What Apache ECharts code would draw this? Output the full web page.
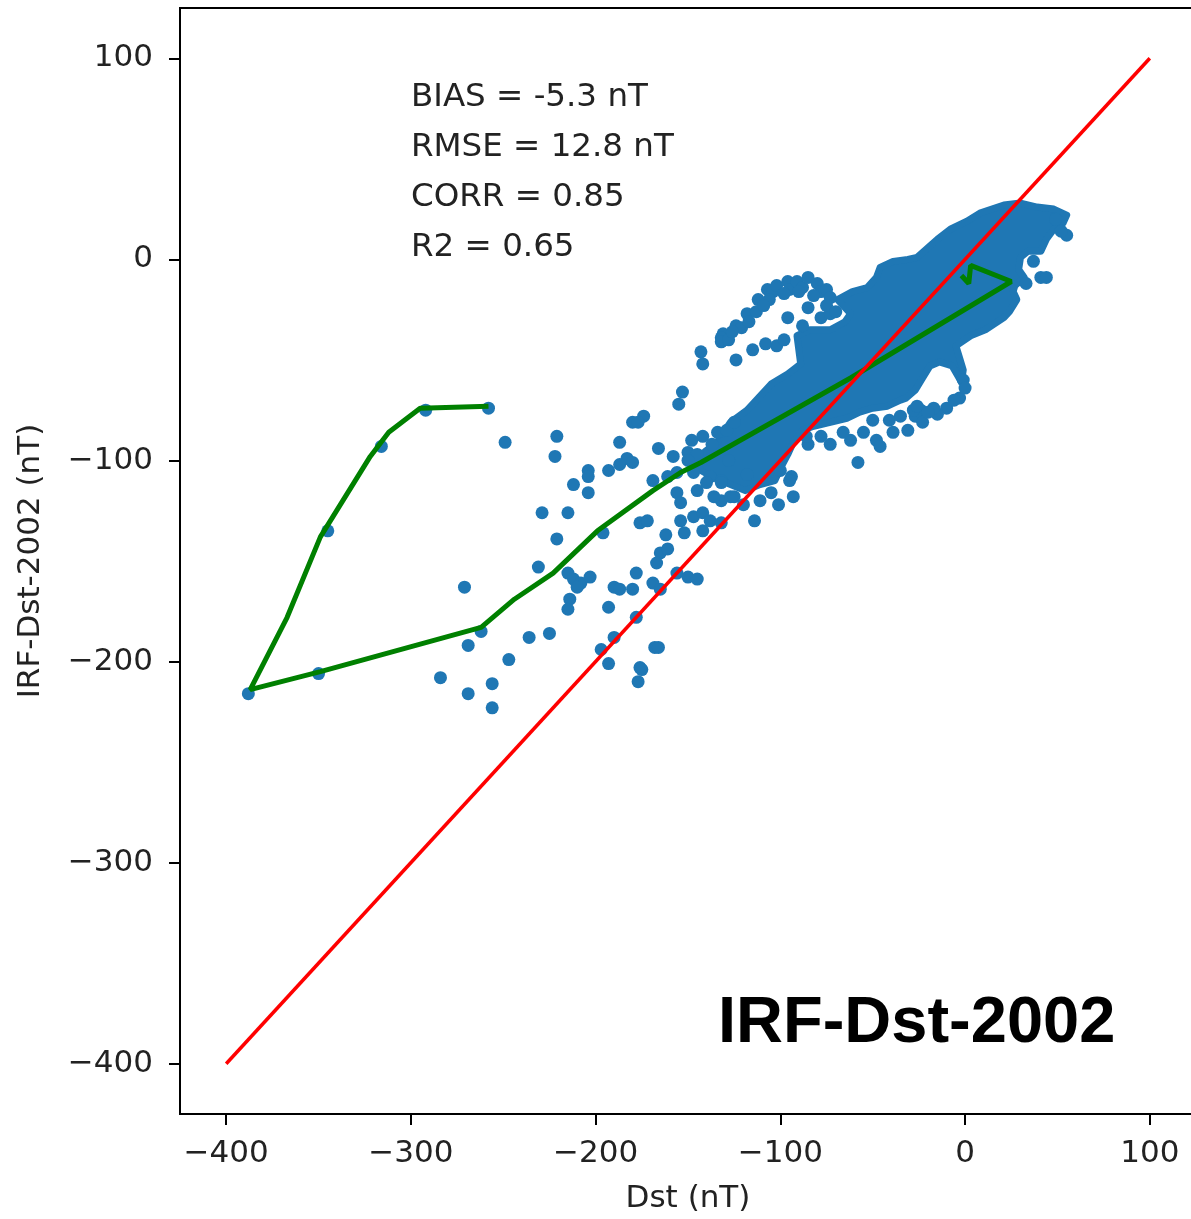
<!DOCTYPE html>
<html>
<head>
<meta charset="utf-8">
<script src="https://cdn.jsdelivr.net/npm/echarts@6/dist/echarts.min.js"></script>
<style>
html,body{margin:0;padding:0;background:#fff;overflow:hidden;}
#chart{width:1198px;height:1219px;}
</style>
</head>
<body>
<div id="chart"></div>
<script>
// ---- data ----
const xTicks = [-400, -300, -200, -100, 0, 100];
const yTicks = [-400, -300, -200, -100, 0, 100];
const xAxisName = 'Dst (nT)';
const yAxisName = 'IRF-Dst-2002 (nT)';
const statsLines = ['BIAS = -5.3 nT', 'RMSE = 12.8 nT', 'CORR = 0.85', 'R2 = 0.65'];
const panelLabel = 'IRF-Dst-2002';

// identity reference line
const redLine = [[-400, -400], [100, 100]];

// storm track (green)
const greenTrack = [
  [-2, -8], [2, -12], [3, -3], [25, -11], [-62, -59], [-143, -101], [-154, -106],
  [-169, -115], [-199, -135], [-223, -156], [-244, -169], [-262, -183],
  [-349, -205], [-387, -214], [-367, -178], [-349, -138], [-322, -98],
  [-312, -86], [-295, -74], [-258, -73]
];

// outline of the dense core of the scatter cloud (overlapping points)
const cloudOutline = [
  [-135, -92], [-127, -81], [-118, -75], [-112, -69], [-105, -62], [-96, -57],
  [-89, -52], [-91, -38], [-84, -35], [-73, -35], [-65, -31], [-62, -27],
  [-69, -20], [-61, -16], [-53, -14], [-48, -9], [-46, -4], [-39, -1],
  [-31, 0], [-26, 1], [-15, 10], [-8, 15], [1, 19], [8, 23], [21, 27],
  [30, 28], [39, 26], [48, 25], [55, 22], [53, 18], [48, 15], [44, 10],
  [41, 4], [34, 4], [30, 1], [29, -5], [32, -9], [27, -13], [26, -16],
  [28, -20], [24, -26], [21, -29], [11, -35], [3, -38], [-5, -43], [-3, -49],
  [-1, -55], [-2, -61], [-7, -53], [-14, -51], [-19, -53], [-23, -59],
  [-27, -65], [-32, -69], [-35, -70], [-42, -73], [-50, -74], [-57, -76],
  [-64, -79], [-73, -81], [-82, -83], [-88, -85], [-93, -91], [-96, -97],
  [-100, -104], [-103, -110], [-111, -112], [-119, -115], [-127, -112],
  [-135, -109], [-143, -105], [-146, -100], [-140, -95]
];

// individual scatter points (Dst, IRF-Dst-2002)
const scatterPoints = [
  // far outliers and storm main phase
  [-388, -216], [-350, -206], [-345, -135], [-316, -93], [-292, -75], [-258, -74],
  [-249, -91], [-221, -88], [-222, -98], [-212, -112], [-204, -105], [-204, -108],
  [-204, -116], [-229, -126], [-215, -126], [-221, -139], [-231, -153], [-271, -163],
  [-262, -185], [-269, -192], [-236, -188], [-225, -186], [-247, -199], [-284, -208],
  [-269, -216], [-256, -211], [-256, -223],
  [-153, -66], [-155, -72], [-174, -78], [-180, -81], [-177, -81], [-187, -91],
  [-166, -94], [-183, -99], [-187, -102], [-193, -105], [-180, -101], [-158, -98],
  [-150, -96], [-145, -97], [-142, -88], [-134, -86], [-129, -85], [-125, -81],
  [-169, -110], [-161, -108], [-156, -106], [-147, -106], [-138, -108], [-132, -110],
  [-156, -116], [-154, -121], [-145, -115], [-140, -111], [-132, -120], [-127, -118],
  [-176, -131], [-172, -130], [-162, -137], [-154, -130], [-152, -136], [-147, -128],
  [-142, -126], [-138, -130], [-142, -135], [-132, -131], [-196, -136], [-165, -146],
  [-161, -144], [-167, -151], [-215, -156], [-212, -159], [-208, -161], [-203, -158],
  [-210, -163], [-214, -169], [-215, -174], [-178, -156], [-190, -163], [-187, -164],
  [-180, -164], [-169, -161], [-165, -164], [-156, -156], [-150, -158], [-145, -159],
  [-193, -173], [-178, -178], [-190, -188], [-197, -194], [-193, -201], [-168, -193],
  [-176, -203], [-177, -210], [-175, -204], [-166, -193],
  [-150, -100], [-148, -90], [-137, -92], [-128, -100], [-136, -118], [-120, -122],
  // upper arc above the core
  [-131, -37], [-124, -33], [-118, -27], [-112, -20], [-107, -15], [-104, -16],
  [-102, -13], [-96, -11], [-95, -15], [-91, -11], [-88, -14], [-85, -9],
  [-80, -12], [-78, -16], [-75, -15], [-73, -19], [-132, -39], [-132, -41],
  [-143, -46], [-142, -52], [-102, -43], [-96, -29], [-85, -24], [-78, -29],
  [-73, -27], [-88, -33],
  [-128, -40], [-121, -34], [-113, -26], [-106, -20], [-98, -17], [-90, -16],
  [-82, -18], [-75, -23], [-70, -26], [-117, -31], [-126, -36], [-109, -23],
  [-115, -45], [-108, -42], [-98, -40], [-124, -50],
  // right side and lower edge of the core
  [55, 12], [37, -1], [41, -9], [44, -9], [-3, -69], [-10, -74], [-15, -77],
  [-24, -75], [-27, -78], [-23, -81], [-31, -85], [-28, -75], [-26, -73],
  [-17, -74], [-39, -86], [-48, -90], [-46, -93], [-62, -90], [-73, -92],
  [-58, -101], [-85, -92], [-94, -108], [-1, -60],
  [-35, -78], [-41, -80], [-50, -80], [-55, -86], [-66, -86], [-78, -88],
  [-86, -88], [-20, -76], [-6, -70], [0, -64], [49, 20], [52, 14], [33, -12],
  [-100, -105], [-95, -110], [-93, -118], [-105, -116], [-111, -120],
  [-118, -107], [-125, -118], [-132, -111], [-101, -122], [-114, -130]
];

// ---- chart ----
const chart = echarts.init(document.getElementById('chart'), null, {renderer: 'canvas'});
const fmt = v => String(v).replace('-', '\u2212');
const FONT = 'DejaVu Sans';

const option = {
  animation: false,
  backgroundColor: '#ffffff',
  grid: {
    left: 180, right: 2, top: 8, bottom: 104,
    show: true, borderColor: '#000', borderWidth: 2, backgroundColor: 'transparent'
  },
  xAxis: {
    type: 'value', min: -425, max: 125,
    name: xAxisName, nameLocation: 'middle', nameGap: 69,
    nameTextStyle: {fontFamily: FONT, fontSize: 31, color: '#222'},
    axisLine: {show: true, onZero: false, lineStyle: {color: '#000', width: 2}},
    axisTick: {show: true, length: 11, lineStyle: {color: '#000', width: 2}, customValues: xTicks},
    axisLabel: {customValues: xTicks, formatter: fmt, fontFamily: FONT, fontSize: 31, color: '#222', margin: 24},
    splitLine: {show: false}
  },
  yAxis: {
    type: 'value', min: -425, max: 125,
    name: yAxisName, nameLocation: 'middle', nameGap: 134, nameRotate: 90,
    nameTextStyle: {fontFamily: FONT, fontSize: 31, color: '#222'},
    axisLine: {show: true, onZero: false, lineStyle: {color: '#000', width: 2}},
    axisTick: {show: true, length: 11, lineStyle: {color: '#000', width: 2}, customValues: yTicks},
    axisLabel: {customValues: yTicks, formatter: fmt, fontFamily: FONT, fontSize: 31, color: '#222', margin: 27},
    splitLine: {show: false}
  },
  graphic: statsLines.map((t, i) => ({
    type: 'text', x: 411, y: 98 + i * 50, z: 100,
    style: {text: t, fontFamily: FONT, fontSize: 32.5, fill: '#222', verticalAlign: 'middle'}
  })).concat([{
    type: 'text', x: 718, y: 1024, z: 100,
    style: {text: panelLabel, fontFamily: 'Liberation Sans', fontWeight: 'bold', fontSize: 65, fill: '#000', verticalAlign: 'middle'}
  }]),
  series: [
    {
      type: 'custom', z: 1, silent: true, clip: true,
      data: [cloudOutline[0]],
      renderItem: function (params, api) {
        const pts = cloudOutline.map(p => api.coord(p));
        return {
          type: 'polygon',
          shape: {points: pts},
          style: {fill: '#1f77b4', stroke: '#1f77b4', lineWidth: 7, lineJoin: 'round'}
        };
      }
    },
    {
      type: 'scatter', z: 2, data: scatterPoints, symbolSize: 13,
      itemStyle: {color: '#1f77b4', opacity: 1}
    },
    {
      type: 'line', z: 3, data: greenTrack, showSymbol: false, symbol: 'none',
      lineStyle: {color: '#008000', width: 5}
    },
    {
      type: 'line', z: 4, data: redLine, showSymbol: false, symbol: 'none',
      lineStyle: {color: '#ff0000', width: 3.5}
    }
  ]
};
chart.setOption(option);
</script>
</body>
</html>
